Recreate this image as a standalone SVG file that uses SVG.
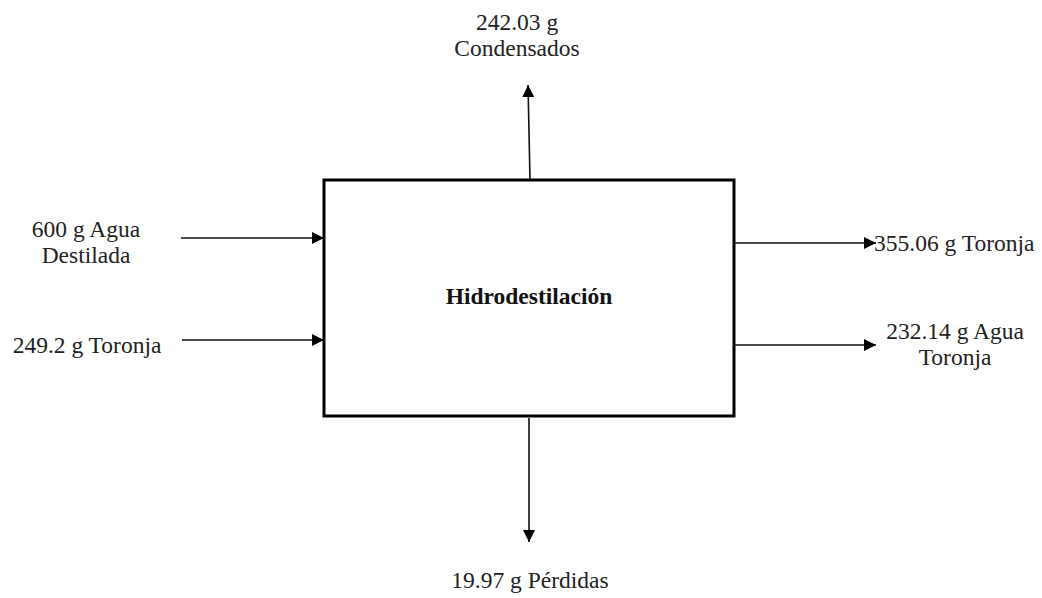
<svg xmlns="http://www.w3.org/2000/svg" width="1042" height="598" viewBox="0 0 1042 598">
  <style>
    .lbl { font-family: "Liberation Serif", "DejaVu Serif", serif; font-size: 23.5px; fill: #222; }
    .title { font-family: "Liberation Serif", "DejaVu Serif", serif; font-size: 23.5px; font-weight: bold; fill: #111; }
    .flow { stroke: #111; stroke-width: 1.6; fill: none; marker-end: url(#head); }
  </style>
  <defs>
    <marker id="head" viewBox="0 0 10 10" refX="10" refY="5" markerWidth="12" markerHeight="12" markerUnits="userSpaceOnUse" orient="auto">
      <path d="M0,0 L10,5 L0,10 Z" fill="#000"/>
    </marker>
  </defs>
  <rect width="1042" height="598" fill="#fff"/>

  <g id="connectors">
    <line class="flow" x1="530" y1="179" x2="528" y2="85"/>
    <line class="flow" x1="181" y1="238" x2="324" y2="238"/>
    <line class="flow" x1="182" y1="340" x2="324" y2="340"/>
    <line class="flow" x1="735" y1="243" x2="876" y2="243"/>
    <line class="flow" x1="735" y1="345" x2="876" y2="345"/>
    <line class="flow" x1="529" y1="418" x2="529" y2="542"/>
  </g>

  <g id="hidrodestilacion">
    <rect x="324" y="180" width="410" height="236" fill="#fff" stroke="#000" stroke-width="3"/>
    <text class="title" x="529" y="304" text-anchor="middle">Hidrodestilación</text>
  </g>

  <g id="condensados">
    <text class="lbl" x="517" y="30" text-anchor="middle">242.03 g</text>
    <text class="lbl" x="517" y="56" text-anchor="middle">Condensados</text>
  </g>

  <g id="agua-destilada">
    <text class="lbl" x="86" y="237" text-anchor="middle">600 g Agua</text>
    <text class="lbl" x="86" y="263" text-anchor="middle">Destilada</text>
  </g>

  <g id="toronja-entrada">
    <text class="lbl" x="87" y="353" text-anchor="middle">249.2 g Toronja</text>
  </g>

  <g id="toronja-salida">
    <text class="lbl" x="874" y="251">355.06 g Toronja</text>
  </g>

  <g id="agua-toronja">
    <text class="lbl" x="955" y="339" text-anchor="middle">232.14 g Agua</text>
    <text class="lbl" x="955" y="365" text-anchor="middle">Toronja</text>
  </g>

  <g id="perdidas">
    <text class="lbl" x="530" y="588" text-anchor="middle">19.97 g Pérdidas</text>
  </g>
</svg>
